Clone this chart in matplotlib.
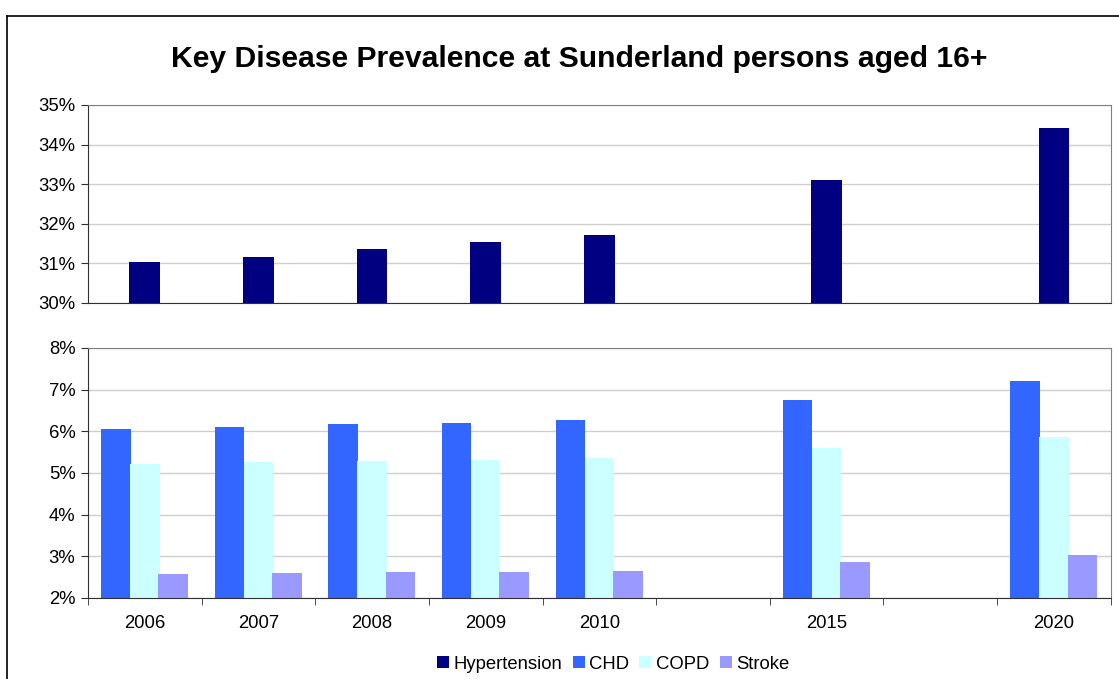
import matplotlib.pyplot as plt
from matplotlib.lines import Line2D
from matplotlib.patches import Patch
import numpy as np

plt.rcParams['font.family'] = ['Liberation Sans', 'DejaVu Sans']

# Data (percent)
years = ['2006', '2007', '2008', '2009', '2010', '', '2015', '', '2020']
hypertension = [31.04, 31.16, 31.36, 31.54, 31.72, None, 33.11, None, 34.42]
chd = [6.06, 6.10, 6.18, 6.20, 6.27, None, 6.75, None, 7.21]
copd = [5.22, 5.26, 5.29, 5.31, 5.36, None, 5.60, None, 5.86]
stroke = [2.58, 2.60, 2.62, 2.62, 2.65, None, 2.86, None, 3.03]

colors = {'Hypertension': '#000080', 'CHD': '#3366FF',
          'COPD': '#CCFFFF', 'Stroke': '#9999FF'}


def present(vals, offset=0.0):
    xs = [i + offset for i, v in enumerate(vals) if v is not None]
    ys = [v for v in vals if v is not None]
    return xs, ys


def style_axes(ax, lo, hi):
    ax.set_xlim(-0.5, len(years) - 0.5)
    ax.set_ylim(lo, hi)
    ax.set_yticks(range(lo, hi + 1))
    ax.set_yticklabels([f'{t}%' for t in range(lo, hi + 1)], fontsize=13.3)
    ax.yaxis.grid(True, color='#cfcfcf', linewidth=1)
    ax.set_axisbelow(True)
    for s in ['top', 'right']:
        ax.spines[s].set_color('#808080')
    for s in ['left', 'bottom']:
        ax.spines[s].set_color('#303030')
    ax.tick_params(axis='y', length=5, color='#303030', pad=4)


fig = plt.figure(figsize=(11.19, 6.79), dpi=100)

# top panel: hypertension
ax1 = fig.add_axes([0.0786, 0.5538, 0.914, 0.2916])
xs, ys = present(hypertension)
ax1.bar(xs, [y - 30 for y in ys], bottom=30, width=0.27,
        color=colors['Hypertension'])
style_axes(ax1, 30, 35)
ax1.set_xticks([])

# bottom panel: CHD, COPD, Stroke
ax2 = fig.add_axes([0.0786, 0.1193, 0.914, 0.3682])
w = 0.26
for vals, off, name in [(chd, -0.255, 'CHD'), (copd, 0.0, 'COPD'),
                        (stroke, 0.25, 'Stroke')]:
    xs, ys = present(vals, off)
    ax2.bar(xs, [y - 2 for y in ys], bottom=2, width=w, color=colors[name])
style_axes(ax2, 2, 8)
ax2.set_xticks(range(len(years)))
ax2.set_xticklabels(years, fontsize=13.3)
ax2.set_xticks(np.arange(-0.5, len(years), 1.0), minor=True)
ax2.tick_params(axis='x', which='major', length=0, pad=12)
ax2.tick_params(axis='x', which='minor', length=5, color='#303030')

fig.text(0.518, 0.913, 'Key Disease Prevalence at Sunderland persons aged 16+',
         ha='center', va='center', fontsize=21.7, fontweight='bold')

handles = [Patch(facecolor=c, edgecolor='none', label=n) for n, c in colors.items()]
fig.legend(handles=handles, loc='center', bbox_to_anchor=(0.548, 0.022),
           ncol=4, frameon=False, fontsize=13.3, handlelength=0.65,
           handleheight=0.65, handletextpad=0.25, columnspacing=0.55)

# outer chart border
fig.add_artist(Line2D([7 / 1119, 7 / 1119], [0, 1 - 16 / 679],
                      transform=fig.transFigure, color='black', linewidth=1.2))
fig.add_artist(Line2D([7 / 1119, 1], [1 - 16 / 679, 1 - 16 / 679],
                      transform=fig.transFigure, color='black', linewidth=1.2))

fig.savefig('out.png', dpi=100)
